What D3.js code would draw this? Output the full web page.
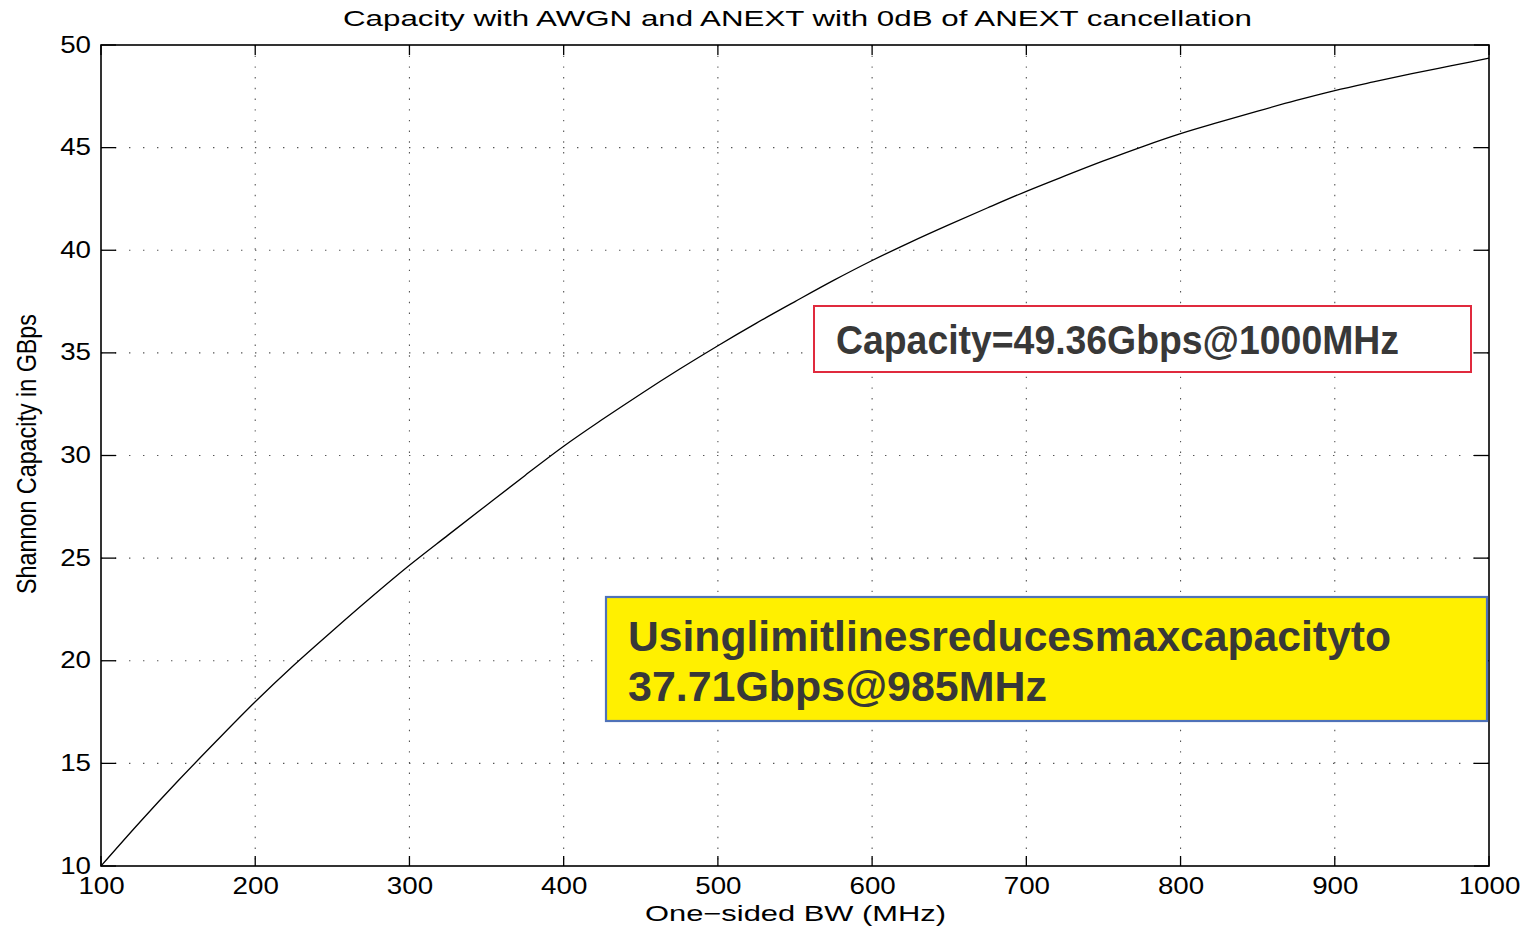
<!DOCTYPE html>
<html>
<head>
<meta charset="utf-8">
<script src="https://cdn.jsdelivr.net/npm/d3@7/dist/d3.min.js"></script>
<style>
  html, body { margin: 0; padding: 0; background: #fff; }
  svg { display: block; }
  text { font-family: "Liberation Sans", Arial, Helvetica, sans-serif; fill: #000; }
</style>
</head>
<body>
<svg id="chart" width="1532" height="928"></svg>
<script>
// Shannon capacity vs one-sided bandwidth
const bandwidthMHz = [100, 125, 150, 175, 200, 225, 250, 275, 300, 325, 350, 375, 400, 425, 450, 475, 500,
  525, 550, 575, 600, 625, 650, 675, 700, 725, 750, 775, 800, 825, 850, 875, 900, 925, 950, 975, 1000];
const capacityGbps = [10.0, 12.12, 14.15, 16.1, 18.0, 19.78, 21.45, 23.08, 24.65, 26.12, 27.58, 29.03, 30.45,
  31.75, 33.0, 34.2, 35.35, 36.45, 37.5, 38.53, 39.5, 40.4, 41.25, 42.07, 42.87, 43.62, 44.35, 45.04,
  45.68, 46.24, 46.78, 47.3, 47.78, 48.2, 48.6, 48.98, 49.36];
const xTicks = [100, 200, 300, 400, 500, 600, 700, 800, 900, 1000];
const yTicks = [10, 15, 20, 25, 30, 35, 40, 45, 50];

const titleText = "Capacity with AWGN and ANEXT with 0dB of ANEXT cancellation";
const xLabelText = "One\u2212sided BW (MHz)";
const yLabelText = "Shannon Capacity in GBps";
const capacityNote = "Capacity=49.36Gbps@1000MHz";
const limitNoteLines = ["Usinglimitlinesreducesmaxcapacityto", "37.71Gbps@985MHz"];

const svg = d3.select("#chart");
const plot = { left: 101, right: 1489, top: 45, bottom: 866 };
const stretch = 1.18; // horizontal widening of the axis lettering

const x = d3.scaleLinear().domain([100, 1000]).range([plot.left, plot.right]);
const y = d3.scaleLinear().domain([10, 50]).range([plot.bottom, plot.top]);

// dotted grid
const grid = svg.append("g");
grid.selectAll("line.v").data(xTicks.slice(1, -1)).join("line")
  .attr("x1", d => x(d)).attr("x2", d => x(d))
  .attr("y1", plot.top).attr("y2", plot.bottom)
  .attr("stroke", "#555").attr("stroke-width", 1.1)
  .attr("stroke-dasharray", "1.4,9.3");
grid.selectAll("line.h").data(yTicks.slice(1, -1)).join("line")
  .attr("x1", plot.left).attr("x2", plot.right)
  .attr("y1", d => y(d)).attr("y2", d => y(d))
  .attr("stroke", "#555").attr("stroke-width", 1.1)
  .attr("stroke-dasharray", "1.4,12.6");

// inward ticks on all four sides
const tickLenX = 10, tickLenY = 15;
const ticks = svg.append("g").attr("stroke", "#000").attr("stroke-width", 1.3);
xTicks.forEach(v => {
  ticks.append("line").attr("x1", x(v)).attr("x2", x(v)).attr("y1", plot.bottom).attr("y2", plot.bottom - tickLenX);
  ticks.append("line").attr("x1", x(v)).attr("x2", x(v)).attr("y1", plot.top).attr("y2", plot.top + tickLenX);
});
yTicks.forEach(v => {
  ticks.append("line").attr("x1", plot.left).attr("x2", plot.left + tickLenY).attr("y1", y(v)).attr("y2", y(v));
  ticks.append("line").attr("x1", plot.right).attr("x2", plot.right - tickLenY).attr("y1", y(v)).attr("y2", y(v));
});

// axes with D3 axis generators (labels only, frame drawn separately)
const xAxis = svg.append("g").attr("transform", `translate(0,${plot.bottom})`)
  .call(d3.axisBottom(x).tickValues(xTicks).tickSize(0).tickPadding(0).tickFormat(d3.format("d")));
xAxis.select(".domain").remove();
xAxis.selectAll("text")
  .attr("y", 28).attr("dy", null)
  .attr("font-size", 23.5)
  .attr("font-family", "'Liberation Sans', Arial, sans-serif")
  .attr("transform", `scale(${stretch},1)`);

const yAxis = svg.append("g").attr("transform", `translate(${plot.left},0)`)
  .call(d3.axisLeft(y).tickValues(yTicks).tickSize(0).tickPadding(0).tickFormat(d3.format("d")));
yAxis.select(".domain").remove();
yAxis.selectAll("text")
  .attr("x", -10 / stretch).attr("dy", "0.3em")
  .attr("font-size", 23.5)
  .attr("font-family", "'Liberation Sans', Arial, sans-serif")
  .attr("transform", `scale(${stretch},1)`);

// capacity curve
const line = d3.line()
  .x((d, i) => x(bandwidthMHz[i]))
  .y(d => y(d))
  .curve(d3.curveMonotoneX);
svg.append("path").datum(capacityGbps)
  .attr("d", line)
  .attr("fill", "none").attr("stroke", "#000").attr("stroke-width", 1.3);

// plot frame
svg.append("rect")
  .attr("x", plot.left).attr("y", plot.top)
  .attr("width", plot.right - plot.left).attr("height", plot.bottom - plot.top)
  .attr("fill", "none").attr("stroke", "#000").attr("stroke-width", 1.6);

// title and axis labels
svg.append("text")
  .attr("x", 343).attr("y", 26)
  .attr("font-size", 22)
  .attr("textLength", 909).attr("lengthAdjust", "spacingAndGlyphs")
  .text(titleText);
svg.append("text")
  .attr("x", 645).attr("y", 921)
  .attr("font-size", 22.5)
  .attr("textLength", 301).attr("lengthAdjust", "spacingAndGlyphs")
  .text(xLabelText);
svg.append("text")
  .attr("transform", `translate(36,594) rotate(-90) scale(1,${stretch})`)
  .attr("font-size", 23)
  .attr("font-family", "'Liberation Sans Narrow', 'Liberation Sans', Arial, sans-serif")
  .attr("textLength", 280).attr("lengthAdjust", "spacingAndGlyphs")
  .text(yLabelText);

// annotation: capacity at full bandwidth
svg.append("rect")
  .attr("x", 814).attr("y", 306).attr("width", 657).attr("height", 66)
  .attr("fill", "#fff").attr("stroke", "#e02a3e").attr("stroke-width", 2);
svg.append("text")
  .attr("x", 836).attr("y", 354)
  .attr("font-size", 40).attr("font-weight", "bold")
  .attr("font-family", "'Liberation Sans Narrow', 'Liberation Sans', Arial, sans-serif")
  .style("fill", "#383838")
  .attr("textLength", 563).attr("lengthAdjust", "spacingAndGlyphs")
  .text(capacityNote);

// annotation: limit-line capacity
svg.append("rect")
  .attr("x", 606).attr("y", 597).attr("width", 881).attr("height", 124)
  .attr("fill", "#fff000").attr("stroke", "#4f72b8").attr("stroke-width", 2.2);
const noteLengths = [763, 419];
limitNoteLines.forEach((t, i) => {
  svg.append("text")
    .attr("x", 628).attr("y", 651 + i * 50)
    .attr("font-size", 42).attr("font-weight", "bold")
    .attr("font-family", "'Liberation Sans Narrow', 'Liberation Sans', Arial, sans-serif")
    .style("fill", "#383838")
    .attr("textLength", noteLengths[i]).attr("lengthAdjust", "spacingAndGlyphs")
    .text(t);
});
</script>
</body>
</html>
